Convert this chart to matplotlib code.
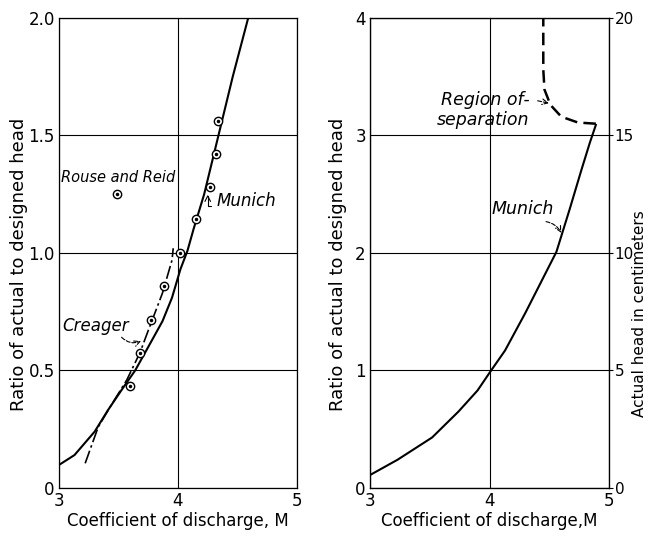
import numpy as np
import matplotlib.pyplot as plt

# values
m_munich_l = [3.0, 3.13, 3.30, 3.41, 3.53, 3.64, 3.75, 3.87, 3.95, 4.02, 4.08,
              4.13, 4.22, 4.34, 4.46, 4.59]
r_munich_l = [0.098, 0.14, 0.24, 0.33, 0.42, 0.50, 0.60, 0.71, 0.81, 0.93, 1.01,
              1.10, 1.25, 1.50, 1.75, 2.00]

m_creager = [3.22, 3.33, 3.43, 3.57, 3.68, 3.75, 3.87, 3.95, 3.96]
r_creager = [0.105, 0.26, 0.345, 0.46, 0.575, 0.67, 0.83, 0.97, 1.02]

m_points = [3.49, 4.34, 4.32, 4.27, 4.15, 4.02, 3.88, 3.77, 3.68, 3.60]
r_points = [1.25, 1.56, 1.42, 1.28, 1.145, 1.00, 0.86, 0.715, 0.575, 0.435]

m_munich_r = [3.0, 3.23, 3.52, 3.74, 3.90, 4.0, 4.13, 4.30, 4.44, 4.56,
              4.67, 4.77, 4.84, 4.89]
r_munich_r = [0.11, 0.24, 0.43, 0.65, 0.83, 0.98, 1.17, 1.49, 1.77, 2.01,
              2.37, 2.71, 2.94, 3.09]

m_separation = [4.89, 4.74, 4.60, 4.51, 4.46, 4.45, 4.45]
r_separation = [3.10, 3.11, 3.16, 3.26, 3.39, 3.56, 4.00]

x_ticks = [3, 4, 5]
y_ticks_l = [0, 0.5, 1.0, 1.5, 2.0]
y_labels_l = ['0', '0.5', '1.0', '1.5', '2.0']
y_ticks_r = [0, 1, 2, 3, 4]
cm_ticks = [0, 5, 10, 15, 20]

plt.rcParams['font.family'] = ['DejaVu Sans']
fig = plt.figure(figsize=(6.49, 5.36), dpi=100)
ax1 = fig.add_axes([0.0909, 0.0896, 0.3667, 0.8769])
ax2 = fig.add_axes([0.5701, 0.0896, 0.3683, 0.8769])

for ax in (ax1, ax2):
    ax.set_xlim(3, 5)
    ax.set_xticks(x_ticks)
    ax.grid(True, color='k', lw=0.8)
    ax.tick_params(length=0, labelsize=12, pad=3)
    ax.set_ylabel('Ratio of actual to designed head', fontsize=13)
    for s in ax.spines.values():
        s.set_linewidth(0.9)

ax1.set_xlabel('Coefficient of discharge, M', fontsize=12, labelpad=1)
ax2.set_xlabel('Coefficient of discharge,M', fontsize=12, labelpad=1)
ax1.yaxis.set_label_coords(-0.13, 0.475)
ax2.yaxis.set_label_coords(-0.095, 0.475)

# left panel
ax1.set_ylim(0, 2)
ax1.set_yticks(y_ticks_l, y_labels_l)
ax1.plot(m_munich_l, r_munich_l, color='k', lw=1.5)
ax1.plot(m_creager, r_creager, color='k', lw=1.2, ls=(0, (8, 2, 1.5, 2)))
ax1.plot(m_points, r_points, 'o', ms=6, mfc='white', mec='k', mew=1)
ax1.plot(m_points, r_points, '.', ms=3, color='k')
ax1.text(3.02, 1.32, 'Rouse and Reid', fontstyle='italic', fontsize=10.5, va='center')
ax1.text(4.32, 1.22, 'Munich', fontstyle='italic', fontsize=12, va='center')
ax1.annotate('', xy=(4.25, 1.26), xytext=(4.3, 1.2),
             arrowprops=dict(arrowstyle='->', lw=0.8,
                             connectionstyle='angle,angleA=180,angleB=90'))
ax1.text(3.03, 0.69, 'Creager', fontstyle='italic', fontsize=12, va='center')
ax1.annotate('', xy=(3.71, 0.63), xytext=(3.51, 0.65),
             arrowprops=dict(arrowstyle='->', lw=0.8, ls='--',
                             connectionstyle='arc3,rad=0.4'))

# right panel
ax2.set_ylim(0, 4)
ax2.set_yticks(y_ticks_r)
ax2.plot(m_munich_r, r_munich_r, color='k', lw=1.5)
ax2.plot(m_separation, r_separation, color='k', lw=1.8, ls=(0, (5, 2.5)))
ax2.text(3.59, 3.30, 'Region of-', fontstyle='italic', fontsize=12.5, va='center')
ax2.text(3.56, 3.13, 'separation', fontstyle='italic', fontsize=12.5, va='center')
ax2.annotate('', xy=(4.52, 3.27), xytext=(4.38, 3.30),
             arrowprops=dict(arrowstyle='->', lw=0.8, ls='--'))
ax2.text(4.02, 2.37, 'Munich', fontstyle='italic', fontsize=12.5, va='center')
ax2.annotate('', xy=(4.61, 2.15), xytext=(4.45, 2.27),
             arrowprops=dict(arrowstyle='->', lw=0.8, ls='--',
                             connectionstyle='arc3,rad=-0.3'))

ax3 = ax2.twinx()
ax3.set_ylim(0, 20)
ax3.set_yticks(cm_ticks)
ax3.tick_params(length=3, labelsize=11, pad=1)
ax3.set_ylabel('Actual head in centimeters', fontsize=11)
ax3.yaxis.set_label_coords(1.097, 0.37)

fig.savefig('out.png', dpi=100)
